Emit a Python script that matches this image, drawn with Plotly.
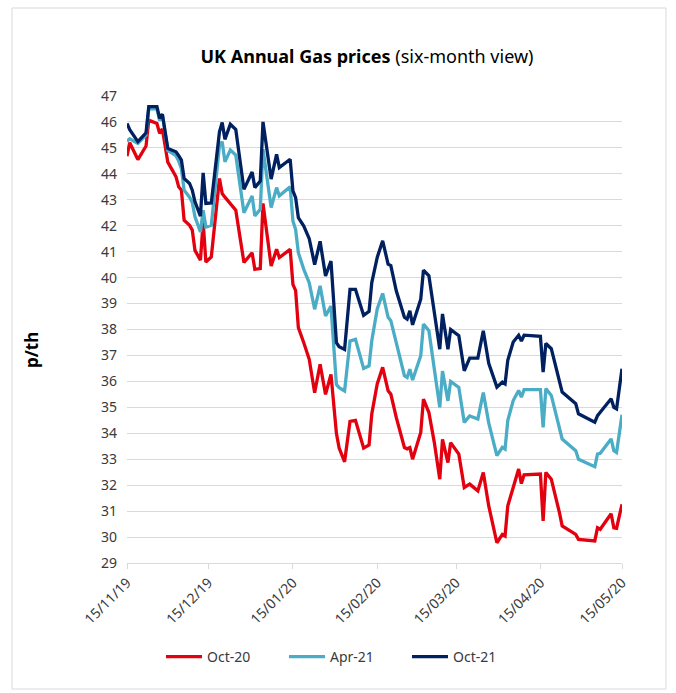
import plotly.graph_objects as go
import pandas as pd

# Vertex dates
dates = [
    "2019-11-15", "2019-11-16", "2019-11-19", "2019-11-22", "2019-11-23", "2019-11-26",
    "2019-11-27", "2019-11-28", "2019-11-30", "2019-12-03", "2019-12-04", "2019-12-05",
    "2019-12-06", "2019-12-08", "2019-12-09", "2019-12-10", "2019-12-12", "2019-12-13",
    "2019-12-14", "2019-12-16", "2019-12-19", "2019-12-20", "2019-12-21", "2019-12-23",
    "2019-12-25", "2019-12-28", "2019-12-31", "2020-01-01", "2020-01-03", "2020-01-04",
    "2020-01-07", "2020-01-09", "2020-01-10", "2020-01-14", "2020-01-15", "2020-01-16",
    "2020-01-17", "2020-01-19", "2020-01-21", "2020-01-23", "2020-01-25", "2020-01-27",
    "2020-01-29", "2020-01-31", "2020-02-01", "2020-02-03", "2020-02-05", "2020-02-07",
    "2020-02-10", "2020-02-12", "2020-02-13", "2020-02-15", "2020-02-17", "2020-02-19",
    "2020-02-20", "2020-02-22", "2020-02-25", "2020-02-26", "2020-02-27", "2020-02-28",
    "2020-03-02", "2020-03-03", "2020-03-05", "2020-03-07", "2020-03-09", "2020-03-10",
    "2020-03-12", "2020-03-13", "2020-03-16", "2020-03-18", "2020-03-20", "2020-03-23",
    "2020-03-25", "2020-03-27", "2020-03-30", "2020-04-01", "2020-04-02", "2020-04-03",
    "2020-04-05", "2020-04-07", "2020-04-08", "2020-04-09", "2020-04-15", "2020-04-16",
    "2020-04-17", "2020-04-19", "2020-04-22", "2020-04-23", "2020-04-28", "2020-04-29",
    "2020-05-05", "2020-05-06", "2020-05-07", "2020-05-11", "2020-05-12", "2020-05-13",
    "2020-05-15",
]

oct21 = [
    45.94, 45.70, 45.24, 45.58, 46.59, 46.59, 46.14, 46.30, 44.98, 44.85, 44.70, 44.53,
    43.82, 43.63, 43.37, 42.92, 42.37, 44.04, 42.86, 42.88, 45.62, 45.98, 45.33, 45.91,
    45.71, 43.40, 44.07, 43.47, 43.72, 46.00, 43.80, 44.75, 44.24, 44.56, 43.34, 43.08,
    42.31, 41.99, 41.50, 40.50, 41.40, 40.06, 40.64, 37.49, 37.34, 37.23, 39.55, 39.55,
    38.55, 38.70, 39.81, 40.78, 41.42, 40.52, 40.46, 39.49, 38.47, 38.40, 38.72, 38.18,
    39.17, 40.29, 40.07, 38.66, 37.24, 38.60, 37.24, 38.00, 37.76, 36.41, 36.90, 36.90,
    37.95, 36.70, 35.78, 35.97, 35.90, 36.81, 37.52, 37.78, 37.56, 37.78, 37.74, 36.36,
    37.46, 37.26, 35.91, 35.59, 35.14, 34.75, 34.43, 34.68, 34.81, 35.33, 35.00, 34.94,
    36.49,
]

apr21 = [
    45.25, 45.35, 45.17, 45.50, 46.50, 46.50, 46.05, 46.30, 44.90, 44.70, 44.50, 44.20,
    43.37, 43.10, 42.90, 42.34, 41.76, 42.60, 41.95, 42.02, 45.10, 45.24, 44.46, 44.92,
    44.72, 42.50, 43.15, 42.38, 42.63, 44.95, 42.70, 43.47, 43.15, 43.50, 42.18, 41.85,
    40.96, 40.32, 39.80, 38.78, 39.68, 38.52, 38.90, 35.88, 35.76, 35.63, 37.56, 37.62,
    36.50, 36.60, 37.57, 38.79, 39.39, 38.47, 38.34, 37.44, 36.22, 36.15, 36.47, 36.05,
    36.99, 38.21, 37.95, 36.47, 35.00, 36.40, 35.25, 36.00, 35.77, 34.42, 34.67, 34.55,
    35.57, 34.40, 33.14, 33.46, 33.39, 34.49, 35.26, 35.65, 35.39, 35.68, 35.68, 34.23,
    35.72, 35.46, 34.10, 33.78, 33.33, 33.00, 32.71, 33.20, 33.23, 33.78, 33.33, 33.26,
    34.71,
]

oct20 = [
    44.68, 45.20, 44.55, 45.07, 46.07, 45.94, 45.56, 45.73, 44.45, 43.89, 43.50, 43.37,
    42.21, 42.02, 41.83, 41.05, 40.67, 42.15, 40.60, 40.80, 43.82, 43.24, 43.10, 42.86,
    42.60, 40.58, 40.96, 40.32, 40.35, 42.86, 40.45, 41.09, 40.77, 41.09, 39.74, 39.50,
    38.07, 37.49, 36.85, 35.56, 36.66, 35.50, 36.27, 34.00, 33.43, 32.90, 34.46, 34.50,
    33.43, 33.55, 34.74, 35.90, 36.54, 35.64, 35.51, 34.61, 33.45, 33.40, 33.45, 33.00,
    34.03, 35.32, 34.80, 33.64, 32.23, 33.77, 32.87, 33.64, 33.20, 31.91, 32.04, 31.78,
    32.49, 31.20, 29.78, 30.10, 30.04, 31.20, 31.91, 32.62, 32.06, 32.40, 32.43, 30.62,
    32.49, 32.23, 30.94, 30.43, 30.10, 29.91, 29.85, 30.36, 30.30, 30.90, 30.36, 30.34,
    31.26,
]

series_names = ["Oct-20", "Apr-21", "Oct-21"]
series_values = [oct20, apr21, oct21]
series_colors = ["#E3000F", "#4BACC6", "#002060"]

tick_dates = ["2019-11-15", "2019-12-15", "2020-01-15", "2020-02-15",
              "2020-03-15", "2020-04-15", "2020-05-15"]
tick_labels = ["15/11/19", "15/12/19", "15/01/20", "15/02/20",
               "15/03/20", "15/04/20", "15/05/20"]

x = pd.to_datetime(dates)

fig = go.Figure()
for name, vals, col in zip(series_names, series_values, series_colors):
    fig.add_trace(go.Scatter(x=x, y=vals, mode="lines", name=name,
                             line=dict(color=col, width=3.3)))

FONT = "Noto Sans"
TXT = "#3A3A3A"

W, H = 676, 693
L, R, T, B = 127, 54, 96, 130
pw, ph = W - L - R, H - T - B

def px2fx(px):
    return (px - L) / pw

def py2fy(py):
    return (H - B - py) / ph

fig.update_layout(
    width=W, height=H,
    margin=dict(l=L, r=R, t=T, b=B, pad=0),
    paper_bgcolor="white", plot_bgcolor="white",
    font=dict(family=FONT, color=TXT, size=14),
    title=dict(
        text="<b>UK Annual Gas prices</b> (six-month view)",
        x=px2fx(367), xref="paper", xanchor="center",
        y=1 - 57 / H, yref="container", yanchor="middle",
        font=dict(family=FONT, size=18, color="#000000"),
    ),
    showlegend=True,
    legend=dict(
        orientation="h", x=px2fx(161), xanchor="left",
        y=py2fy(657), yanchor="middle",
        font=dict(family=FONT, size=14, color=TXT),
        itemwidth=36, entrywidth=72, entrywidthmode="pixels",
        bgcolor="rgba(0,0,0,0)",
    ),
    xaxis=dict(
        type="date",
        range=["2019-11-15", "2020-05-15"],
        tickvals=pd.to_datetime(tick_dates), ticktext=tick_labels,
        tickangle=-45, tickfont=dict(size=14, color=TXT),
        showgrid=False, showline=True, linecolor="#D9D9D9", linewidth=1,
        ticks="outside", ticklen=5, tickcolor="#D9D9D9",
        zeroline=False,
    ),
    yaxis=dict(
        range=[29, 47], dtick=1, tick0=29,
        showgrid=True, gridcolor="#D9D9D9", gridwidth=1,
        showline=False, zeroline=False, ticks="",
        tickfont=dict(size=14, color=TXT), ticklabelstandoff=9,
    ),
    annotations=[
        dict(text="<b>p/th</b>", textangle=-90, x=px2fx(31), y=py2fy(350),
             xref="paper", yref="paper", showarrow=False,
             font=dict(family=FONT, size=17, color="#000000"),
             xanchor="center", yanchor="middle"),
    ],
    shapes=[
        dict(type="rect", xref="paper", yref="paper",
             x0=px2fx(12), x1=px2fx(666), y0=py2fy(689), y1=py2fy(8),
             line=dict(color="#D9D9D9", width=1), fillcolor="rgba(0,0,0,0)",
             layer="below"),
    ],
)

fig.write_html("out.html")
